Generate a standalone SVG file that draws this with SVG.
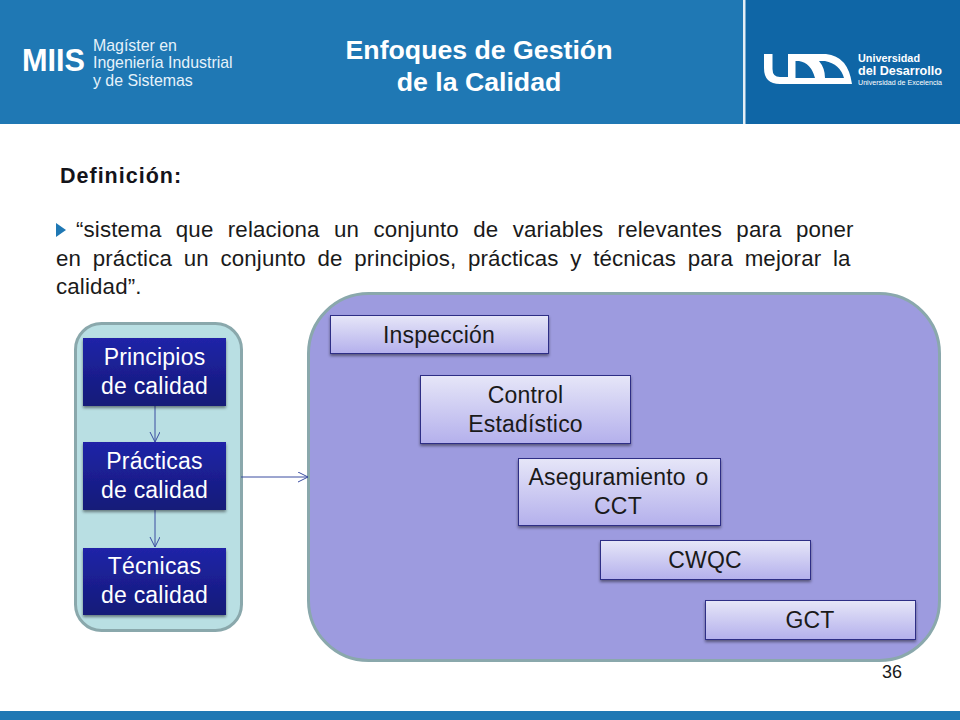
<svg xmlns="http://www.w3.org/2000/svg" width="960" height="720" viewBox="0 0 960 720">
<defs>
<linearGradient id="dark" x1="0" y1="0" x2="0" y2="1"><stop offset="0" stop-color="#2024a8"/><stop offset="1" stop-color="#141a78"/></linearGradient>
<linearGradient id="light" x1="0" y1="0" x2="0" y2="1"><stop offset="0" stop-color="#e6e6f8"/><stop offset="1" stop-color="#b4b0ec"/></linearGradient>
<filter id="sh" x="-5%" y="-10%" width="110%" height="125%"><feDropShadow dx="0" dy="2" stdDeviation="1.5" flood-color="#000" flood-opacity="0.45"/></filter>
<marker id="arr" markerWidth="12" markerHeight="12" refX="10" refY="5" orient="auto" markerUnits="userSpaceOnUse"><path d="M0 0L10 5L0 10" fill="none" stroke="#3a4ca0" stroke-width="1"/></marker>
</defs>
<style>
text{font-family:"Liberation Sans",Arial,sans-serif}
.d rect{fill:url(#dark);filter:url(#sh)}
.d text{fill:#fff;font-size:23px;text-anchor:middle;letter-spacing:.2px}
.l rect{fill:url(#light);stroke:#2e2e86;stroke-width:1;filter:url(#sh)}
.l text{fill:#1a1a1a;font-size:23px;text-anchor:middle;letter-spacing:.2px}
.body{font-size:22.300px;fill:#1a1a1a;letter-spacing:.15px}
.c{fill:none;stroke:#3a4ca0;stroke-width:1;marker-end:url(#arr)}
</style>
<rect width="960" height="720" fill="#fff"/>
<g id="header">
<rect width="744" height="124" fill="#1f78b4"/>
<rect x="744" width="216" height="124" fill="#0f66a6"/>
<rect x="743" width="2.500" height="124" fill="#e4eef6"/>
<text x="22" y="71" font-size="32" font-weight="700" fill="#fff" textLength="63" lengthAdjust="spacingAndGlyphs">MIIS</text>
<g font-size="15.900" fill="#e6f2fa"><text x="93" y="51">Magíster en</text><text x="93" y="68">Ingeniería Industrial</text><text x="93" y="86">y de Sistemas</text></g>
<text x="479" y="59" font-size="26.700" font-weight="700" fill="#fff" text-anchor="middle">Enfoques de Gestión</text>
<text x="479" y="91" font-size="26.700" font-weight="700" fill="#fff" text-anchor="middle">de la Calidad</text>
<path fill="#fff" fill-rule="evenodd" d="M764 54H772.500V69Q772.500 77 780 77H788V54H826Q848 56 852 84H780Q764 84 764 68ZM795.500 61V78H815Q811 63 799 61ZM819 61Q825 68 825 78H844Q840 64 825 61Z"/>
<text x="858" y="62" font-size="11.500" font-weight="700" fill="#fff" font-family="Noto Sans" textLength="62" lengthAdjust="spacingAndGlyphs">Universidad</text>
<text x="858" y="75" font-size="13" font-weight="700" fill="#fff" font-family="Noto Sans" textLength="84" lengthAdjust="spacingAndGlyphs">del Desarrollo</text>
<text x="858" y="85" font-size="7.500" fill="#fff" font-family="Noto Sans" textLength="84" lengthAdjust="spacingAndGlyphs">Universidad de Excelencia</text>
</g>
<text x="60" y="183" font-size="21.500" font-weight="700" fill="#14141a" letter-spacing="1">Definición:</text>
<path d="M56 223l10 7l-10 7z" fill="#1f78b4"/>
<g class="body">
<text x="76" y="237" word-spacing="8">“sistema que relaciona un conjunto de variables relevantes para poner</text>
<text x="56" y="266" word-spacing="5.300">en práctica un conjunto de principios, prácticas y técnicas para mejorar la</text>
<text x="56" y="294">calidad”.</text>
</g>
<g id="panel-left"><rect x="75.500" y="323.500" width="166" height="307" rx="26" fill="#b9dfe3" stroke="#8aa8ac" stroke-width="3"/></g>
<g id="panel-right"><rect x="308.500" y="293.500" width="631" height="367" rx="60" fill="#9d9bdf" stroke="#8aa8ac" stroke-width="3"/></g>
<g id="connectors">
<path class="c" d="M155 406V442"/>
<path class="c" d="M155 510V547"/>
<path class="c" d="M241 477H308"/>
</g>
<g id="n1" class="d"><rect x="83" y="338" width="143" height="68"/><text x="154.500" y="365">Principios</text><text x="154.500" y="394">de calidad</text></g>
<g id="n2" class="d"><rect x="83" y="442" width="143" height="68"/><text x="154.500" y="469">Prácticas</text><text x="154.500" y="498">de calidad</text></g>
<g id="n3" class="d"><rect x="83" y="548" width="143" height="67"/><text x="154.500" y="574">Técnicas</text><text x="154.500" y="603">de calidad</text></g>
<g id="n4" class="l"><rect x="330.500" y="315.500" width="218" height="38"/><text x="439" y="342.500">Inspección</text></g>
<g id="n5" class="l"><rect x="420.500" y="375.500" width="210" height="68"/><text x="525.500" y="403">Control</text><text x="525.500" y="432">Estadístico</text></g>
<g id="n6" class="l"><rect x="518.500" y="458.500" width="202" height="67"/><text x="618.500" y="485" word-spacing="3">Aseguramiento o</text><text x="618" y="514">CCT</text></g>
<g id="n7" class="l"><rect x="600.500" y="540.500" width="210" height="39"/><text x="705" y="568">CWQC</text></g>
<g id="n8" class="l"><rect x="705.500" y="600.500" width="210" height="39"/><text x="810" y="628">GCT</text></g>
<text x="892" y="678" font-size="18" fill="#1a1a1a" text-anchor="middle">36</text>
<rect id="footer" y="711" width="960" height="9" fill="#1f78b4"/>
</svg>
